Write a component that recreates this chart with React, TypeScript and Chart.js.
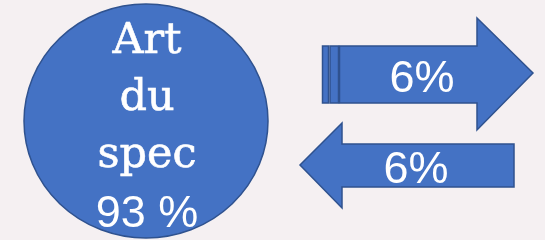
import React, { useEffect, useRef } from "react";
import { Chart, registerables } from "chart.js";

Chart.register(...registerables);

// ---- data ----
const circleLines: string[] = ["Art", "du", "spec"];
const circleValue: number[] = [93];
const arrowValues: number[] = [6, 6];
const arrowDirections: string[] = ["right", "left"];

// ---- layout (positions/styles, in scale units of a 545x240 plane) ----
const FILL = "#4472C4";
const STROKE = "#2F528F";
const BG = "#F5F0F2";

const circleGeom = { cx: 146, cy: 121, rx: 122, ry: 117 };
const circleBaselines = [53, 110, 167, 227];
const arrowGeoms = [
  { bodyL: 339.5, bodyR: 477, bodyT: 46, bodyB: 103, headT: 18, headB: 130, tipX: 533, tipY: 73, textX: 422, textY: 92 },
  { bodyL: 342, bodyR: 514, bodyT: 144, bodyB: 187, headT: 123, headB: 208, tipX: 300, tipY: 165, textX: 416, textY: 183 },
];

const shapesPlugin = {
  id: "shapes",
  beforeDatasetsDraw(chart: any) {
    const { ctx, scales } = chart;
    const X = (v: number) => scales.x.getPixelForValue(v);
    const Y = (v: number) => scales.y.getPixelForValue(v);
    ctx.save();
    // background
    ctx.fillStyle = BG;
    ctx.fillRect(0, 0, chart.width, chart.height);

    // circle
    const c = circleGeom;
    ctx.beginPath();
    ctx.ellipse(X(c.cx), Y(c.cy), Math.abs(X(c.cx + c.rx) - X(c.cx)), Math.abs(Y(c.cy + c.ry) - Y(c.cy)), 0, 0, Math.PI * 2);
    ctx.fillStyle = FILL;
    ctx.fill();
    ctx.lineWidth = 1.5;
    ctx.strokeStyle = STROKE;
    ctx.stroke();

    ctx.fillStyle = "#FFFFFF";
    ctx.strokeStyle = "#FFFFFF";
    ctx.lineWidth = 0.6;
    ctx.textAlign = "center";
    ctx.textBaseline = "alphabetic";
    ctx.font = "43px 'DejaVu Serif'";
    circleLines.forEach((t, i) => {
      ctx.fillText(t, X(c.cx + 1), Y(circleBaselines[i]));
      ctx.strokeText(t, X(c.cx + 1), Y(circleBaselines[i]));
    });
    ctx.font = "45px 'Liberation Sans'";
    ctx.fillText(`${circleValue[0]} %`, X(c.cx + 1), Y(circleBaselines[3]));

    // arrows
    arrowValues.forEach((val, i) => {
      const g = arrowGeoms[i];
      const dir = arrowDirections[i];
      ctx.beginPath();
      if (dir === "right") {
        ctx.moveTo(X(g.bodyL), Y(g.bodyT));
        ctx.lineTo(X(g.bodyR), Y(g.bodyT));
        ctx.lineTo(X(g.bodyR), Y(g.headT));
        ctx.lineTo(X(g.tipX), Y(g.tipY));
        ctx.lineTo(X(g.bodyR), Y(g.headB));
        ctx.lineTo(X(g.bodyR), Y(g.bodyB));
        ctx.lineTo(X(g.bodyL), Y(g.bodyB));
      } else {
        ctx.moveTo(X(g.bodyR), Y(g.bodyT));
        ctx.lineTo(X(g.bodyL), Y(g.bodyT));
        ctx.lineTo(X(g.bodyL), Y(g.headT));
        ctx.lineTo(X(g.tipX), Y(g.tipY));
        ctx.lineTo(X(g.bodyL), Y(g.headB));
        ctx.lineTo(X(g.bodyL), Y(g.bodyB));
        ctx.lineTo(X(g.bodyR), Y(g.bodyB));
      }
      ctx.closePath();
      ctx.fillStyle = FILL;
      ctx.fill();
      ctx.lineWidth = 1.5;
      ctx.strokeStyle = STROKE;
      ctx.stroke();

      if (dir === "right") {
        // striped tail
        const stripes = [
          [322.5, 328.5],
          [330, 338.5],
        ];
        stripes.forEach(([a, b]) => {
          ctx.beginPath();
          ctx.rect(X(a), Y(g.bodyT), X(b) - X(a), Y(g.bodyB) - Y(g.bodyT));
          ctx.fillStyle = FILL;
          ctx.fill();
          ctx.lineWidth = 1.5;
          ctx.strokeStyle = STROKE;
          ctx.stroke();
        });
      }

      ctx.fillStyle = "#FFFFFF";
      ctx.font = "45px 'Liberation Sans'";
      ctx.textAlign = "center";
      ctx.fillText(`${val}%`, X(g.textX), Y(g.textY));
    });
    ctx.restore();
  },
};

export default function App() {
  const ref = useRef<HTMLCanvasElement | null>(null);
  useEffect(() => {
    document.body.style.margin = "0";
    document.body.style.background = BG;
    const chart = new Chart(ref.current as HTMLCanvasElement, {
      type: "scatter",
      data: { datasets: [{ data: [], pointRadius: 0 }] },
      options: {
        animation: false,
        responsive: false,
        maintainAspectRatio: false,
        layout: { padding: 0 },
        plugins: { legend: { display: false }, tooltip: { enabled: false } },
        scales: {
          x: { type: "linear", min: 0, max: 545, display: false },
          y: { type: "linear", min: 0, max: 240, reverse: true, display: false },
        },
      },
      plugins: [shapesPlugin],
    });
    return () => chart.destroy();
  }, []);
  return (
    <div style={{ width: 545, height: 240 }}>
      <canvas ref={ref} width={545} height={240} style={{ display: "block" }} />
    </div>
  );
}
